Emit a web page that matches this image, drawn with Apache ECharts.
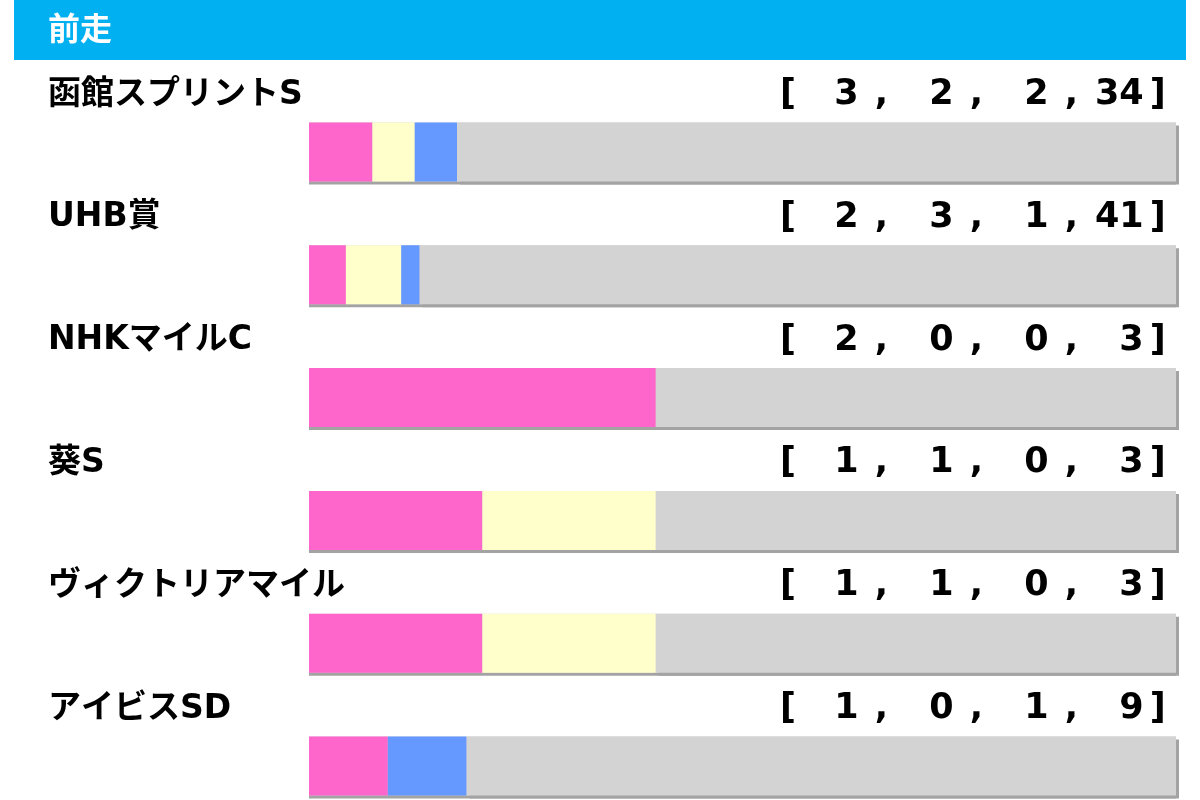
<!DOCTYPE html>
<html>
<head>
<meta charset="utf-8">
<script src="https://cdn.jsdelivr.net/npm/echarts@6/dist/echarts.min.js"></script>
<style>
  html, body { margin: 0; padding: 0; background: #fff; }
  #chart { width: 1200px; height: 800px; }
</style>
</head>
<body>
<div id="chart"></div>
<script>
// previous race names and finishing record [1st, 2nd, 3rd, other]
const races = ['函館スプリントS', 'UHB賞', 'NHKマイルC', '葵S', 'ヴィクトリアマイル', 'アイビスSD'];
const firsts = [3, 2, 2, 1, 1, 1];
const seconds = [2, 3, 0, 1, 1, 0];
const thirds = [2, 1, 0, 0, 0, 1];
const others = [34, 41, 3, 3, 3, 9];

const FONT = "'DejaVu Sans', 'Noto Sans CJK JP', sans-serif";
const colors = ['#ff66cc', '#ffffcc', '#6699ff', '#d3d3d3'];
const SHADOW = '#a3a3a3';

const chart = echarts.init(document.getElementById('chart'));

// share of each result within the row total
const totals = races.map((_, i) => firsts[i] + seconds[i] + thirds[i] + others[i]);
const share = arr => arr.map((v, i) => v / totals[i]);

// pad one digit numbers with a figure space so they line up to the right
const pad = n => (n < 10 ? '\u2007' : '') + n;

const makeSeries = (name, arr, idx) => {
    const s = {
        name: name,
        type: 'bar',
        stack: 'all',
        barWidth: 59,
        clip: false,
        data: share(arr),
        itemStyle: { color: colors[idx] },
        emphasis: { disabled: true },
    };
    if (idx === 0) {
        // bottom edge shadow along the whole track
        s.showBackground = true;
        s.backgroundStyle = { color: colors[3], shadowColor: SHADOW, shadowBlur: 0, shadowOffsetY: 3 };
    }
    if (idx === 3) {
        // right and bottom edge shadow of the last piece
        s.itemStyle.shadowColor = SHADOW;
        s.itemStyle.shadowBlur = 0;
        s.itemStyle.shadowOffsetX = 3;
        s.itemStyle.shadowOffsetY = 3;
    }
    return s;
};

const numStyle = { color: '#000', fontSize: 35, fontWeight: 'bold', fontFamily: 'DejaVu Sans' };

const option = {
    animation: false,
    backgroundColor: '#fff',
    title: {
        text: '前走',
        left: 48,
        top: 16,
        padding: 0,
        textStyle: { color: '#fff', fontSize: 32, fontWeight: 'bold', fontFamily: FONT },
    },
    graphic: [{
        type: 'rect',
        z: -1,
        shape: { x: 14, y: 0, width: 1172, height: 60 },
        style: { fill: '#00b0f0' },
    }],
    grid: { left: 309, right: 24, top: 152, bottom: 34 },
    xAxis: { type: 'value', min: 0, max: 1, show: false },
    yAxis: {
        type: 'category',
        inverse: true,
        boundaryGap: false,
        position: 'right',
        offset: -1128,
        data: races,
        axisLine: { show: false },
        axisTick: { show: false },
        splitLine: { show: false },
        axisLabel: {
            interval: 0,
            align: 'left',
            margin: 0,
            padding: [0, 0, 114, 0],
            formatter: (v, i) =>
                '{nm|' + v + '}' +
                '{t|[}{g0| }{n|' + pad(firsts[i]) + '}{g1| }{t|,}{g2| }' +
                '{n|' + pad(seconds[i]) + '}{g1| }{t|,}{g2| }' +
                '{n|' + pad(thirds[i]) + '}{g1| }{t|,}{g2| }' +
                '{n|' + pad(others[i]) + '}{g3| }{t|]}',
            rich: {
                nm: { width: 732, color: '#000', fontSize: 33, fontWeight: 'bold', fontFamily: FONT },
                t: numStyle,
                n: numStyle,
                g0: { width: 14 },
                g1: { width: 16 },
                g2: { width: 17 },
                g3: { width: 6 },
            },
        },
    },
    series: [
        makeSeries('1着', firsts, 0),
        makeSeries('2着', seconds, 1),
        makeSeries('3着', thirds, 2),
        makeSeries('着外', others, 3),
    ],
};

chart.setOption(option);
</script>
</body>
</html>
